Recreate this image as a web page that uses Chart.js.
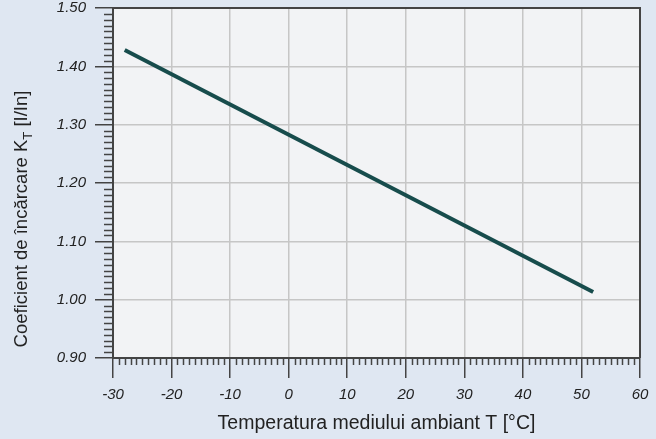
<!DOCTYPE html>
<html>
<head>
<meta charset="utf-8">
<script src="https://cdn.jsdelivr.net/npm/chart.js@4.4.1/dist/chart.umd.min.js"></script>
<style>
  html, body { margin: 0; padding: 0; background: #dfe7f2; }
  canvas { display: block; }
</style>
</head>
<body>
<canvas id="kChart" width="656" height="439"></canvas>
<script>
// Temperature (°C) and load coefficient K_T at the ends of the curve
const temperatures = [-28, 52];
const coefficients = [1.428, 1.013];

const xTicks = [-30, -20, -10, 0, 10, 20, 30, 40, 50, 60];
const yTicks = [0.90, 1.00, 1.10, 1.20, 1.30, 1.40, 1.50];

const fontFamily = '"Liberation Sans", Arial, sans-serif';
const plotColor = '#f2f3f5';
const gridColor = '#c6c6c6';
const axisColor = '#444444';
const lineColor = '#174c4c';

const plotFrame = {
  id: 'plotFrame',
  beforeDraw(chart) {
    const { ctx, chartArea: a } = chart;
    ctx.save();
    ctx.fillStyle = plotColor;
    ctx.fillRect(a.left, a.top, a.right - a.left, a.bottom - a.top);
    ctx.restore();
  },
  afterDraw(chart) {
    const { ctx, chartArea: a, scales } = chart;
    ctx.save();
    // top and right edges of the frame
    ctx.strokeStyle = axisColor;
    ctx.lineWidth = 2;
    ctx.beginPath();
    ctx.moveTo(a.left, a.top);
    ctx.lineTo(a.right, a.top);
    ctx.lineTo(a.right, a.bottom);
    ctx.stroke();

    // minor ticks
    ctx.lineWidth = 1.5;
    ctx.beginPath();
    for (let t = -30; t <= 60; t++) {
      if (t % 10 === 0) continue;
      const x = Math.round(scales.x.getPixelForValue(t)) + 0.5;
      ctx.moveTo(x, a.bottom);
      ctx.lineTo(x, a.bottom + 7);
    }
    for (let k = 90; k <= 150; k++) {
      if (k % 10 === 0) continue;
      const y = Math.round(scales.y.getPixelForValue(k / 100)) + 0.5;
      ctx.moveTo(a.left - 9, y);
      ctx.lineTo(a.left, y);
    }
    ctx.stroke();

    // y axis title with subscript
    ctx.fillStyle = '#222';
    ctx.translate(22, 219);
    ctx.rotate(-Math.PI / 2);
    ctx.textBaseline = 'middle';
    const main = 'Coeficient de încărcare K';
    const sub = 'T';
    const unit = ' [I/In]';
    const big = '18.5px ' + fontFamily;
    const small = '13px ' + fontFamily;
    ctx.font = big;
    const w1 = ctx.measureText(main).width;
    const w3 = ctx.measureText(unit).width;
    ctx.font = small;
    const w2 = ctx.measureText(sub).width;
    const x0 = -(w1 + w2 + w3) / 2;
    ctx.font = big;
    ctx.fillText(main, x0, 0);
    ctx.font = small;
    ctx.fillText(sub, x0 + w1, 6);
    ctx.font = big;
    ctx.fillText(unit, x0 + w1 + w2, 0);
    ctx.restore();
  }
};

new Chart(document.getElementById('kChart'), {
  type: 'scatter',
  data: {
    datasets: [{
      data: temperatures.map((t, i) => ({ x: t, y: coefficients[i] })),
      showLine: true,
      borderColor: lineColor,
      borderWidth: 4,
      pointRadius: 0,
      fill: false
    }]
  },
  options: {
    responsive: false,
    animation: false,
    layout: { padding: { top: 0, right: 0, left: 0, bottom: 0 } },
    plugins: { legend: { display: false }, tooltip: { enabled: false } },
    scales: {
      x: {
        type: 'linear',
        min: -30,
        max: 60,
        afterBuildTicks: s => { s.ticks = xTicks.map(v => ({ value: v })); },
        afterFit: s => { s.height = 81; s.paddingRight = 16; },
        ticks: {
          color: '#222',
          padding: 8,
          maxRotation: 0,
          font: { family: fontFamily, size: 15, style: 'italic' },
          callback: v => String(v)
        },
        grid: {
          color: gridColor,
          lineWidth: 1.5,
          tickColor: axisColor,
          tickLength: 20,
          tickWidth: 1.5
        },
        border: { color: axisColor, width: 2 },
        title: {
          display: true,
          text: 'Temperatura mediului ambiant T [°C]',
          color: '#222',
          font: { family: fontFamily, size: 19.5 },
          padding: { top: 4, bottom: 4 }
        }
      },
      y: {
        min: 0.9,
        max: 1.5,
        afterBuildTicks: s => { s.ticks = yTicks.map(v => ({ value: v })); },
        afterFit: s => { s.width = 113; s.paddingTop = 8; },
        ticks: {
          color: '#222',
          padding: 9,
          font: { family: fontFamily, size: 15, style: 'italic' },
          callback: v => v.toFixed(2)
        },
        grid: {
          color: gridColor,
          lineWidth: 1.5,
          tickColor: axisColor,
          tickLength: 18,
          tickWidth: 1.5
        },
        border: { color: axisColor, width: 2 }
      }
    }
  },
  plugins: [plotFrame]
});
</script>
</body>
</html>
